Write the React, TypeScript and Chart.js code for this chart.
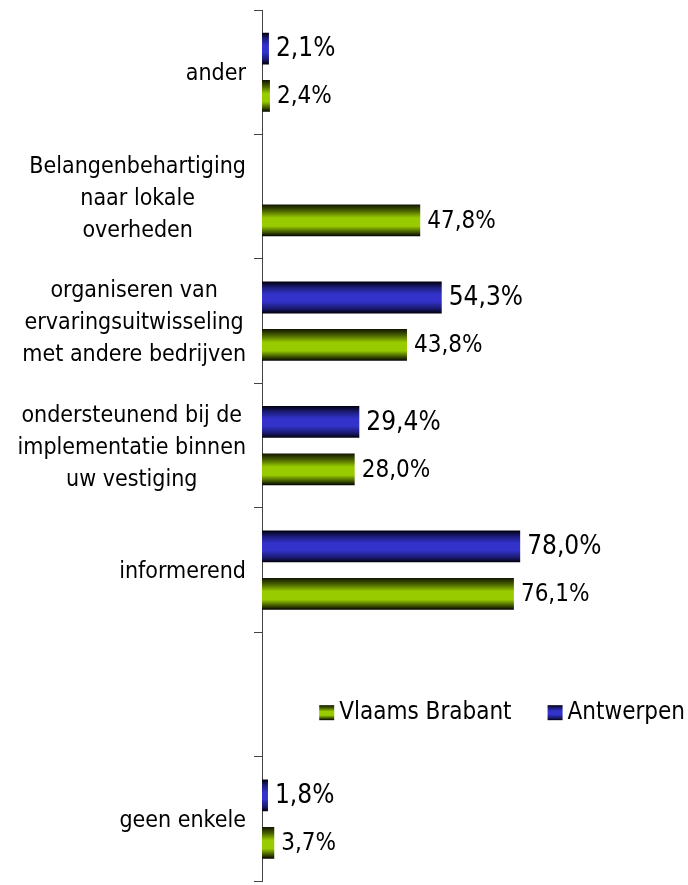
import React, { useEffect, useRef } from 'react';
import { Chart, registerables } from 'chart.js';

Chart.register(...registerables);

// ---- data ----
const categories: string[][] = [
  ['ander'],
  ['Belangenbehartiging', 'naar lokale', 'overheden'],
  ['organiseren van', 'ervaringsuitwisseling', 'met andere bedrijven'],
  ['ondersteunend bij de', 'implementatie binnen', 'uw vestiging'],
  ['informerend'],
  [''],
  ['geen enkele'],
];
const antwerpen: (number | null)[] = [2.1, null, 54.3, 29.4, 78.0, null, 1.8];
const vlaamsBrabant: (number | null)[] = [2.4, 47.8, 43.8, 28.0, 76.1, null, 3.7];
const seriesNames = ['Antwerpen', 'Vlaams Brabant'];
const legendOrder = ['Vlaams Brabant', 'Antwerpen'];

const FONT = '"DejaVu Sans Condensed", "DejaVu Sans", sans-serif';

type Stops = [number, string][];
const blueStops: Stops = [
  [0, '#00000c'],
  [0.18, '#1c1c78'],
  [0.4, '#3333cc'],
  [0.62, '#3333cc'],
  [0.85, '#1a1a70'],
  [1, '#000008'],
];
const greenStops: Stops = [
  [0, '#101400'],
  [0.2, '#4a6300'],
  [0.42, '#99cc00'],
  [0.68, '#99cc00'],
  [0.88, '#3a4f00'],
  [1, '#000000'],
];
const seriesStops = [blueStops, greenStops];

function makeGradient(ctx: CanvasRenderingContext2D, top: number, bottom: number, stops: Stops) {
  const g = ctx.createLinearGradient(0, top, 0, bottom);
  stops.forEach(([o, c]) => g.addColorStop(o, c));
  return g;
}

const fmt = (v: number) => v.toFixed(1).replace('.', ',') + '%';

const gradientPlugin = {
  id: 'gradientBars',
  beforeDatasetsDraw(chart: any) {
    const ctx = chart.ctx as CanvasRenderingContext2D;
    chart.data.datasets.forEach((_ds: any, di: number) => {
      const meta = chart.getDatasetMeta(di);
      meta.data.forEach((el: any) => {
        const h = el.height;
        el.options.backgroundColor = makeGradient(ctx, el.y - h / 2, el.y + h / 2, seriesStops[di]);
      });
    });
  },
};

const valueLabelPlugin = {
  id: 'valueLabels',
  afterDatasetsDraw(chart: any) {
    const ctx = chart.ctx as CanvasRenderingContext2D;
    ctx.save();
    chart.data.datasets.forEach((ds: any, di: number) => {
      const meta = chart.getDatasetMeta(di);
      meta.data.forEach((el: any, i: number) => {
        const v = ds.data[i];
        if (v == null) return;
        ctx.font = (di === 0 ? '26px ' : '24px ') + FONT;
        ctx.fillStyle = '#000';
        ctx.textAlign = 'left';
        ctx.textBaseline = 'middle';
        ctx.fillText(fmt(v), el.x + 7, el.y + 1);
      });
    });
    ctx.restore();
  },
};

const categoryLabelPlugin = {
  id: 'categoryLabels',
  afterDraw(chart: any) {
    const ctx = chart.ctx as CanvasRenderingContext2D;
    const yScale = chart.scales.y;
    const right = chart.chartArea.left - 16;
    const lineH = 32;
    ctx.save();
    ctx.font = '23px ' + FONT;
    ctx.fillStyle = '#000';
    ctx.textAlign = 'center';
    ctx.textBaseline = 'middle';
    categories.forEach((lines, i) => {
      const yc = yScale.getPixelForValue(i) + 2;
      const w = Math.max(...lines.map((l) => ctx.measureText(l).width));
      const cx = right - w / 2;
      const y0 = yc - ((lines.length - 1) / 2) * lineH;
      lines.forEach((l, k) => ctx.fillText(l, cx, y0 + k * lineH));
    });

    // legend in the empty category slot
    ctx.font = '24px ' + FONT;
    const emptyIdx = categories.findIndex((l) => l.length === 1 && l[0] === '');
    const ly = yScale.getPixelForValue(emptyIdx) + 18;
    const box = 15;
    const gapBoxText = 5;
    const gapItems = 36;
    const legendRight = chart.width - 3;
    const widths = legendOrder.map((n) => ctx.measureText(n).width);
    const total = widths.reduce((a, b) => a + b, 0) + 2 * (box + gapBoxText) + gapItems;
    let x = legendRight - total;
    ctx.textAlign = 'left';
    legendOrder.forEach((name, k) => {
      const si = seriesNames.indexOf(name);
      ctx.fillStyle = makeGradient(ctx, ly - box / 2, ly + box / 2, seriesStops[si]);
      ctx.fillRect(x, ly - box / 2, box, box);
      x += box + gapBoxText;
      ctx.fillStyle = '#000';
      ctx.fillText(name, x, ly);
      x += widths[k] + gapItems;
    });
    ctx.restore();
  },
};

export default function App() {
  const ref = useRef<HTMLCanvasElement | null>(null);
  useEffect(() => {
    if (!ref.current) return;
    const chart = new Chart(ref.current, {
      type: 'bar',
      data: {
        labels: categories,
        datasets: [
          {
            label: seriesNames[0],
            data: antwerpen,
            backgroundColor: () => '#3333cc',
            borderWidth: 0,
          },
          {
            label: seriesNames[1],
            data: vlaamsBrabant,
            backgroundColor: () => '#99cc00',
            borderWidth: 0,
          },
        ],
      },
      options: {
        indexAxis: 'y',
        responsive: false,
        animation: false,
        datasets: {
          bar: { categoryPercentage: 0.762, barPercentage: 0.67 },
        },
        layout: { padding: { top: 10, bottom: 0, left: 0, right: 95 } },
        plugins: {
          legend: { display: false },
          tooltip: { enabled: false },
        },
        scales: {
          x: { display: false, min: 0, max: 100 },
          y: {
            grid: {
              display: true,
              drawOnChartArea: false,
              drawTicks: true,
              tickLength: 8,
              color: '#444',
              offset: true,
            },
            border: { display: true, color: '#444', width: 1 },
            ticks: { color: 'rgba(0,0,0,0)', font: { size: 1 } },
            afterFit: (scale: any) => {
              scale.width = 262;
            },
          },
        },
      },
      plugins: [gradientPlugin, valueLabelPlugin, categoryLabelPlugin],
    } as any);
    return () => chart.destroy();
  }, []);
  return (
    <div style={{ position: 'absolute', left: 0, top: 0, width: 688, height: 885 }}>
      <canvas ref={ref} width={688} height={885} style={{ display: 'block' }} />
    </div>
  );
}
